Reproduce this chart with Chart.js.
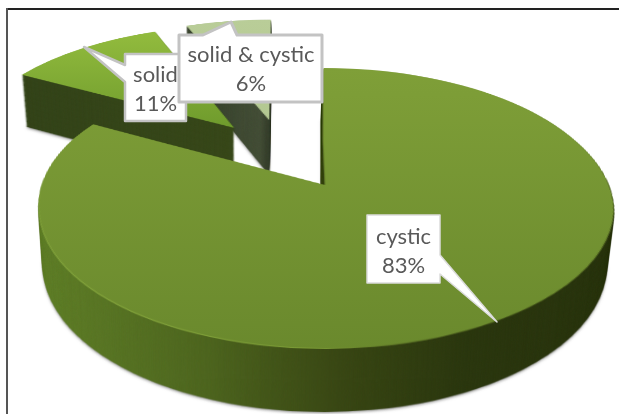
<!DOCTYPE html>
<html>
<head>
<meta charset="utf-8">
<style>
  body { margin: 0; background: #fff; }
  canvas { display: block; }
</style>
<script src="https://cdn.jsdelivr.net/npm/chart.js@4"></script>
</head>
<body>
<canvas id="myChart" width="619" height="414"></canvas>
<script>
'use strict';

const categories = ['cystic', 'solid', 'solid & cystic'];
const percentValues = [83, 11, 6];
const sliceColors = ['#748f31', '#83ad36', '#b8cc96'];

// perspective of the tilted pie, fitted to the picture
const APEX_X = 323.5, APEX_Y = 185;
const SCALE_X = 283.6, SCALE_Y = 136.2, TILT = -0.164;
const EXPLODE = 0.28;
const MAIN_SHIFT_U = 0.143, MAIN_SHIFT_V = 0.241;
const SRC_SIZE = 1000, SRC_MID = 500;

function newLayer(w, h) {
  const c = document.createElement('canvas');
  c.width = w;
  c.height = h;
  return c;
}

// small sideways correction per row: the back slices lean left, the big one drifts right
function rowLean(index, y) {
  if (index === 0) return 3 * Math.min(Math.max((y - 140) / 70, 0), 1);
  return 0.05 * (y - APEX_Y);
}

function sliceSilhouette(arc, index, radius) {
  const flat = newLayer(SRC_SIZE, SRC_SIZE);
  const fctx = flat.getContext('2d');
  const half = (arc.startAngle + arc.endAngle) / 2;
  fctx.translate(SRC_MID - arc.x + Math.cos(half) * EXPLODE * radius, SRC_MID - arc.y + Math.sin(half) * EXPLODE * radius);
  arc.draw(fctx);

  // row by row projection of the flat slice
  const out = newLayer(619, 414);
  const octx = out.getContext('2d');
  const rowV = (y) => { const dy = y - APEX_Y; return dy / (SCALE_Y - TILT * dy); };
  for (let y = 0; y < 414; y++) {
    const v = rowV(y);
    const w = 1 + TILT * v;
    const sy = SRC_MID + radius * (v + MAIN_SHIFT_V);
    const sh = Math.max(radius * (rowV(y + 1) - v), 0.5);
    const dx = APEX_X + rowLean(index, y) + SCALE_X * (-SRC_MID / radius - MAIN_SHIFT_U) / w;
    const dw = SRC_SIZE * SCALE_X / (w * radius);
    octx.drawImage(flat, 0, sy, SRC_SIZE, sh, dx, y, dw, 1);
  }
  return out;
}

function tinted(shape, makeGrad) {
  const out = newLayer(619, 414);
  const c = out.getContext('2d');
  c.drawImage(shape, 0, 0);
  c.globalCompositeOperation = 'source-in';
  c.fillStyle = makeGrad(c);
  c.fillRect(0, 0, 619, 414);
  return out;
}

function linear(c, x0, y0, x1, y1, stops) {
  const g = c.createLinearGradient(x0, y0, x1, y1);
  stops.forEach((s) => g.addColorStop(s[0], s[1]));
  return g;
}

const wallStyles = [
  (c) => linear(c, 40, 0, 610, 0, [[0, '#607f29'], [0.28, '#4f6720'], [0.52, '#3a4815'], [0.75, '#2c3810'], [1, '#2a350f']]),
  (c) => linear(c, 20, 0, 235, 0, [[0, '#34441a'], [1, '#38481a']]),
  (c) => linear(c, 215, 0, 272, 0, [[0, '#3b4630'], [0.8, '#454f38'], [1, '#2f3826']])
];
const topStyles = [
  (c) => linear(c, 0, 68, 0, 350, [[0, '#7f9f38'], [1, '#6a892d']]),
  (c) => linear(c, 0, 30, 0, 130, [[0, '#93bc3e'], [1, '#6e9a2c']]),
  (c) => linear(c, 0, 18, 0, 120, [[0, '#b9cd98'], [1, '#b3c891']])
];

function stampWall(ctx, wall) {
  const steps = 62;
  for (let i = steps; i >= 1; i--) {
    const t = i / steps;
    const sx = 1 - 0.02 * t;
    const sy = 1 + 0.044 * t;
    ctx.save();
    if (i === steps) {
      ctx.shadowColor = 'rgba(40,40,40,0.55)';
      ctx.shadowBlur = 3;
      ctx.shadowOffsetY = 1;
    }
    ctx.setTransform(sx, 0, 0, sy, 240 * (1 - sx), 48.7 * t);
    ctx.drawImage(wall, 0, 0);
    ctx.restore();
  }
}

const pie3d = {
  id: 'pie3d',
  beforeDatasetsDraw(chart) {
    const ctx = chart.ctx;
    const arcs = chart.getDatasetMeta(0).data;
    const radius = arcs[0].outerRadius;

    ctx.fillStyle = '#fff';
    ctx.fillRect(0, 0, 619, 414);

    // back slices first, the big one last
    for (let i = arcs.length - 1; i >= 0; i--) {
      const shape = sliceSilhouette(arcs[i], i, radius);
      stampWall(ctx, tinted(shape, wallStyles[i]));
      if (i === 0) {
        const rim = tinted(shape, (c) => linear(c, 40, 0, 500, 0, [[0, '#8fb043'], [0.6, '#7a9a35'], [1, '#3a4815']]));
        ctx.drawImage(rim, 0, 1);
      }
      ctx.drawImage(tinted(shape, topStyles[i]), 0, 0);
    }
    return false;
  },
  afterDraw(chart) {
    const ctx = chart.ctx;

    // frame of the picture
    ctx.fillStyle = '#222';
    ctx.fillRect(6, 8, 613, 2);
    ctx.fillStyle = '#555';
    ctx.fillRect(6, 8, 2, 406);

    const boxes = [
      { at: 1, line: 2.5, edge: '#c3c3c3', cx: 155.5, y1: 75, y2: 104,
        poly: [[125, 54], [186, 54], [186, 121], [125, 121], [125, 82], [84, 47], [125, 65]] },
      { at: 2, line: 3, edge: '#c3c3c3', cx: 251, y1: 55, y2: 84,
        poly: [[179, 35], [203, 35], [231, 22], [237, 35], [322, 35], [322, 102], [179, 102]] },
      { at: 0, line: 1.5, edge: '#dcdcdc', cx: 403.5, y1: 237, y2: 266,
        poly: [[367, 215], [440, 215], [440, 255], [497, 322], [440, 274], [440, 283], [367, 283]] }
    ];
    boxes.forEach((b) => {
      ctx.beginPath();
      b.poly.forEach((p, k) => (k ? ctx.lineTo(p[0], p[1]) : ctx.moveTo(p[0], p[1])));
      ctx.closePath();
      ctx.fillStyle = '#fff';
      ctx.fill();
      ctx.lineWidth = b.line;
      ctx.lineJoin = 'round';
      ctx.strokeStyle = b.edge;
      ctx.stroke();
      ctx.fillStyle = '#595959';
      ctx.font = '22px Lato';
      ctx.textAlign = 'center';
      ctx.textBaseline = 'middle';
      ctx.fillText(categories[b.at], b.cx, b.y1);
      ctx.fillText(percentValues[b.at] + '%', b.cx, b.y2);
    });
  }
};

new Chart(document.getElementById('myChart'), {
  type: 'pie',
  data: {
    labels: categories,
    datasets: [{ data: percentValues, backgroundColor: sliceColors, borderWidth: 0 }]
  },
  options: {
    responsive: false,
    animation: false,
    events: [],
    plugins: { legend: { display: false }, tooltip: { enabled: false } }
  },
  plugins: [pie3d]
});
</script>
</body>
</html>
